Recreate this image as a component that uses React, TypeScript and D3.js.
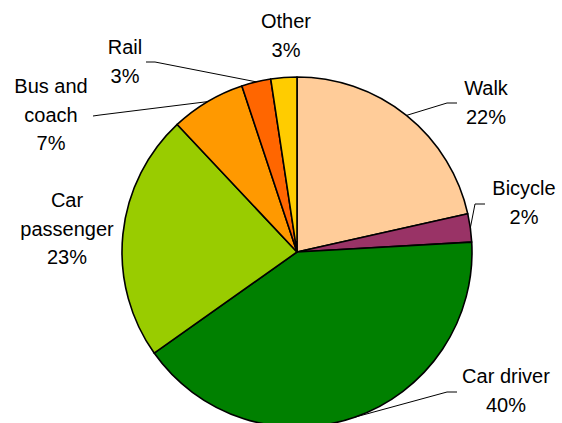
import * as d3 from "d3";
import { useEffect, useRef } from "react";

const width = 562;
const height = 423;

const categories = ["Walk", "Bicycle", "Car driver", "Car passenger", "Bus and coach", "Rail", "Other"];
const shares = [21.5, 2.6, 41.1, 22.8, 6.9, 2.7, 2.4];
const percentLabels = [22, 2, 40, 23, 7, 3, 3];
const colors = ["#FFCC99", "#993366", "#008000", "#99CC00", "#FF9900", "#FF6600", "#FFCC00"];

// label text lines for each slice
const labelLines = [
  ["Walk"],
  ["Bicycle"],
  ["Car driver"],
  ["Car", "passenger"],
  ["Bus and", "coach"],
  ["Rail"],
  ["Other"],
];

// label anchor (centre x, first baseline y) and leader elbow/end, null = no leader
const labelLayout = [
  { x: 486, y: 95, leader: [[447, 103], [457, 103]] },
  { x: 524, y: 195, leader: [[475, 204], [485, 204]] },
  { x: 506, y: 383, leader: [[447, 392], [457, 392]] },
  { x: 67, y: 207, leader: null },
  { x: 51, y: 93, leader: [[100, 115], [93, 116]] },
  { x: 125, y: 54, leader: [[155, 62], [146, 62]] },
  { x: 286, y: 28, leader: null },
];

const lineGap = 28.7;

function App() {
  const svgRef = useRef<SVGSVGElement | null>(null);

  useEffect(() => {
    const svg = d3.select(svgRef.current);
    svg.selectAll("*").remove();

    const cx = 297;
    const cy = 252;
    const radius = 175;

    const data = categories.map((name, i) => ({
      name,
      value: shares[i],
      pct: percentLabels[i],
      color: colors[i],
      lines: labelLines[i],
      layout: labelLayout[i],
    }));

    const pie = d3
      .pie<(typeof data)[number]>()
      .value((d) => d.value)
      .sort(null)
      .startAngle(0)
      .endAngle(2 * Math.PI);

    const arc = d3
      .arc<d3.PieArcDatum<(typeof data)[number]>>()
      .innerRadius(0)
      .outerRadius(radius);

    const arcs = pie(data);

    const g = svg.append("g").attr("transform", `translate(${cx},${cy})`);

    g.selectAll(".slice")
      .data(arcs)
      .join("path")
      .attr("class", "slice")
      .attr("d", arc)
      .style("fill", (d) => d.data.color)
      .style("stroke", "#000")
      .style("stroke-width", 1.6)
      .style("stroke-linejoin", "round");

    // leader lines
    arcs.forEach((a) => {
      const leader = a.data.layout.leader;
      if (!leader) return;
      const mid = (a.startAngle + a.endAngle) / 2;
      const sx = cx + Math.sin(mid) * radius;
      const sy = cy - Math.cos(mid) * radius;
      const pts: [number, number][] = [[sx, sy], ...(leader as [number, number][])];
      svg
        .append("path")
        .attr("d", d3.line()(pts))
        .style("fill", "none")
        .style("stroke", "#000")
        .style("stroke-width", 1);
    });

    // labels
    arcs.forEach((a) => {
      const { x, y } = a.data.layout;
      const text = svg
        .append("text")
        .attr("text-anchor", "middle")
        .style("font-family", "'Liberation Sans', Arial, sans-serif")
        .style("font-size", "20px")
        .style("fill", "#000");
      const lines = [...a.data.lines, `${a.data.pct}%`];
      lines.forEach((line, i) => {
        text
          .append("tspan")
          .attr("x", x)
          .attr("y", y + i * lineGap)
          .text(line);
      });
    });
  }, []);

  return (
    <svg
      ref={svgRef}
      width={width}
      height={height}
      style={{ position: "absolute", left: 0, top: 0, background: "#fff" }}
    ></svg>
  );
}

export default App;
